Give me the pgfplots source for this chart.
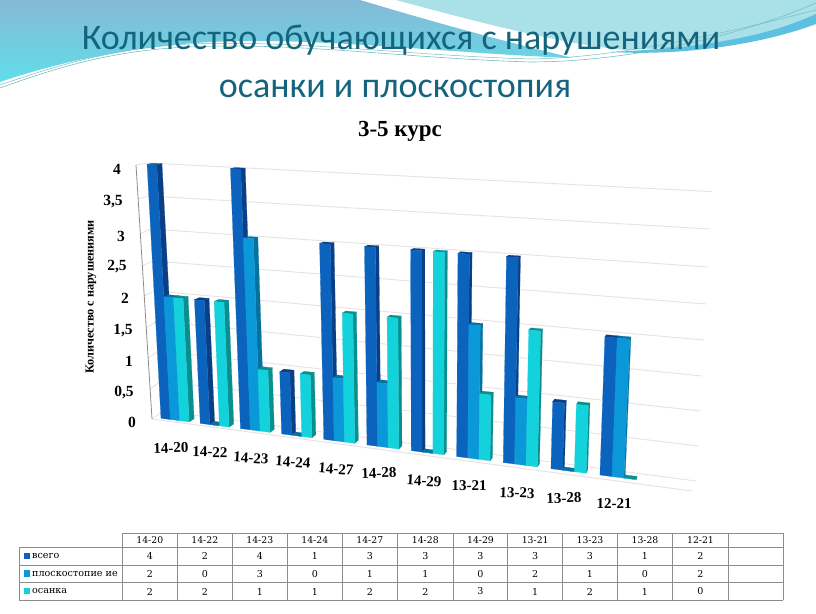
\documentclass[border=0pt]{standalone}
\usepackage{fontspec}
\usepackage{pgfplots}
\usepackage{pgfplotstable}
\pgfplotsset{compat=1.18}
\setmainfont{Liberation Serif}
\newfontfamily\titlefont{Carlito}
\newfontfamily\tablefont{DejaVu Serif}
\definecolor{sA}{HTML}{0B63BE}\definecolor{sAd}{HTML}{0A3F85}
\definecolor{sB}{HTML}{0A98D8}\definecolor{sBd}{HTML}{06709F}
\definecolor{sC}{HTML}{14D2DC}\definecolor{sCd}{HTML}{0B8E8E}
\definecolor{ttl}{HTML}{14647D}
\definecolor{gridc}{HTML}{E4E4E4}
\definecolor{tbl}{HTML}{8C8C8C}
\definecolor{waveA}{RGB}{134,185,214}
\definecolor{waveB}{RGB}{96,222,234}
\definecolor{waveC}{RGB}{170,225,232}
\definecolor{waveD}{RGB}{94,192,224}
\definecolor{waveE}{RGB}{120,190,195}
\pgfplotstableread{
i cat   vsego plosk osanka
0 14-20 4 2 2
1 14-22 2 0 2
2 14-23 4 3 1
3 14-24 1 0 1
4 14-27 3 1 2
5 14-28 3 1 2
6 14-29 3 0 3
7 13-21 3 2 1
8 13-23 3 1 2
9 13-28 1 0 1
10 12-21 2 2 0
}\chartdata
% projection of (category position u, value h, depth flag d) on the page
\newcommand\calcP[5]{%
\pgfmathsetmacro\xz{(36.95*(#1)+161)/(1-0.011588*(#1))}%
\pgfmathsetmacro\htt{(254+0.0752*(\xz-161))*(#2)/(1-0.018*(#2))/4.3103}%
\pgfmathsetmacro#4{\xz+(\xz-427)/4850*\htt+(#3)*(5.2-0.0085*(\xz-161))}%
\pgfmathsetmacro#5{418.3+0.1292*(\xz-161)-\htt-(#3)*(3.2-0.55*(#2))}}
\newcommand\onebar[5]{% cat, series, value, front, dark
\pgfmathsetmacro\ul{#1+#2*0.24}\pgfmathsetmacro\ur{\ul+0.24}%
\calcP{\ul}{#3}{0}\Ax\Ay \calcP{\ur}{#3}{0}\Bx\By
\calcP{\ur}{0}{0}\Cx\Cy \calcP{\ul}{0}{0}\Dx\Dy
\calcP{\ul}{#3}{1}\Ex\Ey \calcP{\ur}{#3}{1}\Fx\Fy
\calcP{\ur}{0}{1}\Gx\Gy
\edef\tmp{\noexpand\addplot[fill=#5,draw=#5,line width=0.2pt,forget plot] coordinates {(\Bx,\By)(\Fx,\Fy)(\Gx,\Gy)(\Cx,\Cy)} -- cycle;}\tmp
\edef\tmp{\noexpand\addplot[fill=#5,draw=#5,line width=0.2pt,forget plot] coordinates {(\Ax,\Ay)(\Ex,\Ey)(\Fx,\Fy)(\Bx,\By)} -- cycle;}\tmp
\edef\tmp{\noexpand\addplot[fill=#4,draw=#4,line width=0.2pt,forget plot] coordinates {(\Ax,\Ay)(\Bx,\By)(\Cx,\Cy)(\Dx,\Dy)} -- cycle;}\tmp
}
\begin{document}
\begin{tikzpicture}
\useasboundingbox (0,0) rectangle (816pt,613pt);
\fill[white] (0,0) rectangle (816pt,613pt);
\begin{scope}[x=1pt,y=-1pt,yshift=613pt]
% upper left wave
\shade[top color=waveA,bottom color=waveB,draw=none]
 (0,0) -- (360,0) .. controls (420,18) and (490,38) .. (573,58)
 .. controls (480,55) and (340,40) .. (250,41)
 .. controls (160,41) and (70,58) .. (0,82) -- cycle;
% upper right wave
\fill[waveC]
 (396,0) -- (816,0) -- (816,17) .. controls (760,40) and (690,48) .. (625,50)
 .. controls (560,44) and (470,20) .. (396,0) -- cycle;
\fill[waveD]
 (816,14) .. controls (760,40) and (690,48) .. (612,52)
 .. controls (680,56) and (760,45) .. (816,24) -- cycle;
% thin lines of the waves
\draw[waveE,line width=0.6pt]
 (0,88) .. controls (50,70) and (110,50) .. (190,47)
 .. controls (300,42) and (400,58) .. (530,62)
 .. controls (620,62) and (730,40) .. (816,3);
\draw[waveE,line width=0.5pt]
 (0,85) .. controls (50,68) and (110,48) .. (190,44)
 .. controls (300,40) and (400,55) .. (530,59)
 .. controls (620,58) and (730,32) .. (816,10);
% titles
\node[font=\titlefont\fontsize{36}{36}\selectfont,text=ttl] at (401,40) {Количество обучающихся с нарушениями};
\node[font=\titlefont\fontsize{36}{36}\selectfont,text=ttl] at (395,89) {осанки и плоскостопия};
\node[font=\bfseries\fontsize{23}{23}\selectfont] at (400,131) {3-5 курс};
\end{scope}
\begin{axis}[at={(0,0)},anchor=south west,scale only axis,width=816pt,height=613pt,
  xmin=0,xmax=816,ymin=0,ymax=613,y dir=reverse,hide axis,clip=false,no markers]
% gridlines of the back and side walls (value 0.5 apart)
\addplot[gridc,line width=0.9pt] coordinates {(136,165)(148,163)(712,191.6)};
\addplot[gridc,line width=0.9pt] coordinates {(138,199)(149,196)(710,229)};
\addplot[gridc,line width=0.9pt] coordinates {(140,234)(150,229)(708,267)};
\addplot[gridc,line width=0.9pt] coordinates {(142,266)(153,261)(706,304)};
\addplot[gridc,line width=0.9pt] coordinates {(144,296)(155,291)(704,340)};
\addplot[gridc,line width=0.9pt] coordinates {(146,328)(157,321)(702,376)};
\addplot[gridc,line width=0.9pt] coordinates {(148,358)(159,351)(700,411)};
\addplot[gridc,line width=0.9pt] coordinates {(150,389)(161,381)(698,446)};
\addplot[gridc,line width=0.9pt] coordinates {(152,419)(163,411)(696,481)};
\addplot[gridc,line width=1pt] coordinates {(152,419)(692,491)};
\addplot[black!45,line width=0.8pt] coordinates {(136,165)(152,419)};
% bars
\pgfplotsforeachungrouped \rr in {0,...,10}{%
 \pgfplotstablegetelem{\rr}{vsego}\of\chartdata\let\va\pgfplotsretval
 \pgfplotstablegetelem{\rr}{plosk}\of\chartdata\let\vb\pgfplotsretval
 \pgfplotstablegetelem{\rr}{osanka}\of\chartdata\let\vc\pgfplotsretval
 \onebar{\rr}{0}{\va}{sA}{sAd}%
 \onebar{\rr}{1}{\vb}{sB}{sBd}%
 \onebar{\rr}{2}{\vc}{sC}{sCd}%
}
% value labels
\node[font=\bfseries\fontsize{15.5}{15.5}\selectfont] at (axis cs:117,169) {4};
\node[font=\bfseries\fontsize{15.5}{15.5}\selectfont] at (axis cs:113,202) {3,5};
\node[font=\bfseries\fontsize{15.5}{15.5}\selectfont] at (axis cs:121,236) {3};
\node[font=\bfseries\fontsize{15.5}{15.5}\selectfont] at (axis cs:117,267) {2,5};
\node[font=\bfseries\fontsize{15.5}{15.5}\selectfont] at (axis cs:125,298) {2};
\node[font=\bfseries\fontsize{15.5}{15.5}\selectfont] at (axis cs:123,331) {1,5};
\node[font=\bfseries\fontsize{15.5}{15.5}\selectfont] at (axis cs:129,361) {1};
\node[font=\bfseries\fontsize{15.5}{15.5}\selectfont] at (axis cs:124,393) {0,5};
\node[font=\bfseries\fontsize{15.5}{15.5}\selectfont] at (axis cs:132,422) {0};
% category labels
\node[font=\bfseries\fontsize{15}{15}\selectfont,rotate=2] at (axis cs:171,448) {14-20};
\node[font=\bfseries\fontsize{15}{15}\selectfont,rotate=-1] at (axis cs:210,452) {14-22};
\node[font=\bfseries\fontsize{15}{15}\selectfont,rotate=-4] at (axis cs:251,458) {14-23};
\node[font=\bfseries\fontsize{15}{15}\selectfont,rotate=-4] at (axis cs:293,462) {14-24};
\node[font=\bfseries\fontsize{15}{15}\selectfont,rotate=-4] at (axis cs:336,469) {14-27};
\node[font=\bfseries\fontsize{15}{15}\selectfont,rotate=2] at (axis cs:379,473) {14-28};
\node[font=\bfseries\fontsize{15}{15}\selectfont,rotate=-3] at (axis cs:424,481) {14-29};
\node[font=\bfseries\fontsize{15}{15}\selectfont] at (axis cs:469,486) {13-21};
\node[font=\bfseries\fontsize{15}{15}\selectfont,rotate=-2] at (axis cs:517,493) {13-23};
\node[font=\bfseries\fontsize{15}{15}\selectfont,rotate=2] at (axis cs:564,498) {13-28};
\node[font=\bfseries\fontsize{15}{15}\selectfont] at (axis cs:614,504) {12-21};
\node[font=\bfseries\fontsize{12.2}{12.2}\selectfont,rotate=90] at (axis cs:91,297) {Количество с нарушениями};
\end{axis}
\begin{scope}[x=1pt,y=-1pt,yshift=613pt]
% data table
\draw[tbl,line width=0.9pt] (122.3,533.3) -- (783.3,533.3) (19.3,547.3) -- (783.3,547.3)
  (19.3,565) -- (783.3,565) (19.3,582.7) -- (783.3,582.7) (19.3,600.3) -- (783.3,600.3)
  (19.3,547.3) -- (19.3,600.3);
\foreach \x in {122.3,177.3,232.3,287.3,342.3,397.3,453.3,507.7,562.7,617.3,672.7,728.3,783.3}
  \draw[tbl,line width=0.9pt] (\x,533.3) -- (\x,600.3);
\foreach \x/\n/\a/\b/\c in {149.8/14-20/4/2/2,204.8/14-22/2/0/2,259.8/14-23/4/3/1,314.8/14-24/1/0/1,369.8/14-27/3/1/2,
   425.3/14-28/3/1/2,480.5/14-29/3/0/3,535.2/13-21/3/2/1,590/13-23/3/1/2,645/13-28/1/0/1,700.5/12-21/2/2/0}{
  \node[font=\tablefont\fontsize{9.3}{9.3}\selectfont] at (\x,540.3) {\n};
  \node[font=\tablefont\fontsize{9.5}{9.5}\selectfont] at (\x,556.2) {\a};
  \node[font=\tablefont\fontsize{9.5}{9.5}\selectfont] at (\x,574) {\b};
  \node[font=\tablefont\fontsize{9.5}{9.5}\selectfont] at (\x,591.5) {\c};
}
\fill[sA] (23.5,552.5) rectangle (30,559);
\fill[sB] (23.5,570) rectangle (30,576.5);
\fill[sC] (23.5,587.5) rectangle (30,594);
\node[anchor=west,inner sep=0pt,font=\tablefont\fontsize{9.6}{9.6}\selectfont] at (32,556.2) {всего};
\node[anchor=west,inner sep=0pt,font=\tablefont\fontsize{9.6}{9.6}\selectfont] at (32,574) {плоскостопие ие};
\node[anchor=west,inner sep=0pt,font=\tablefont\fontsize{9.6}{9.6}\selectfont] at (32,591.5) {осанка};
\end{scope}
\end{tikzpicture}
\end{document}
